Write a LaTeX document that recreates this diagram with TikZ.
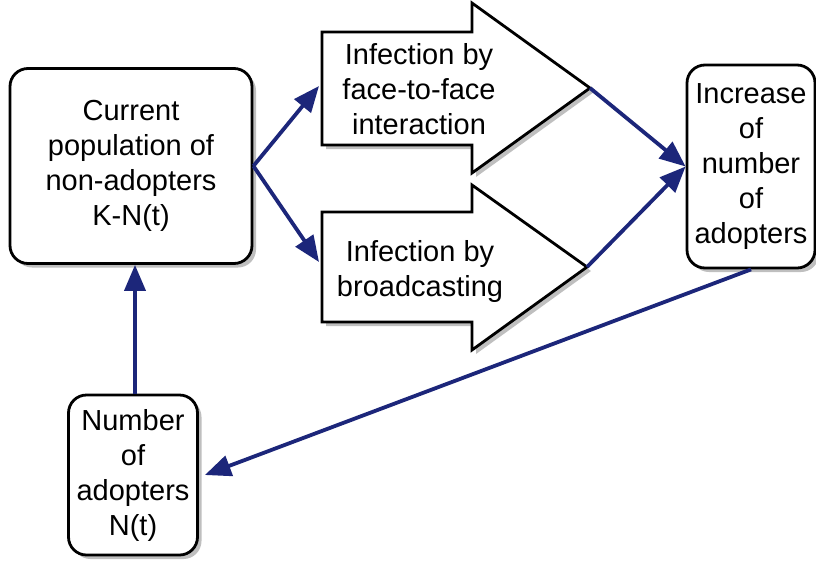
\documentclass[tikz,border=0pt]{standalone}
\usepackage{fontspec}
\setmainfont{Liberation Sans}
\usetikzlibrary{arrows.meta,shadows}
\definecolor{navy}{RGB}{28,38,122}
\begin{document}
\begin{tikzpicture}[x=1pt,y=-1pt,
  shad/.style={drop shadow={shadow xshift=4pt,shadow yshift=-4pt,fill=black!50}},
  box/.style={draw=black,line width=2.8pt,rounded corners=18pt,fill=white,align=center,inner sep=0pt,font=\fontsize{29}{35}\selectfont,shad},
  blk/.style={draw=black,line width=2.8pt,fill=white,line join=miter,shad},
  lbl/.style={align=center,inner sep=0pt,font=\fontsize{29}{35}\selectfont},
  link/.style={draw=navy,line width=3.8pt,-{Triangle[length=26pt,width=21pt]}}]
\useasboundingbox[fill=white] (0,0) rectangle (816,563);
% block arrows
\draw[blk] (322,32) -- (472,32) -- (472,3) -- (590,88) -- (472,173) -- (472,145) -- (322,145) -- cycle;
\coordinate (fatip) at (590,88);
\coordinate (fain) at (319,86);
\node[lbl] (fatext) at (419,89) {Infection by\\face-to-face\\interaction};
\draw[blk] (322,212) -- (472,212) -- (472,185) -- (587,267) -- (472,350) -- (472,322) -- (322,322) -- cycle;
\coordinate (bctip) at (587,267);
\coordinate (bcin) at (319,262);
\node[lbl] (bctext) at (420,271) {Infection by\\broadcasting};
% boxes
\node[box,minimum width=242pt,minimum height=195pt] (cur) at (131,166) {Current\\population of\\non-adopters\\K-N(t)};
\node[box,minimum width=128pt,minimum height=203pt] (inc) at (751,166.5) {Increase\\of\\number\\of\\adopters};
\node[box,minimum width=129pt,minimum height=160pt] (num) at (133,475) {Number\\of\\adopters\\N(t)};
% connectors
\draw[link] (cur.east) -- (fain);
\draw[link] (cur.east) -- (bcin);
\draw[link] (fatip) -- (inc.west);
\draw[link] (bctip) -- (inc.west);
\draw[link] (inc.south) -- ([xshift=6pt]num.east);
\draw[link] ([xshift=2pt]num.north) -- ([xshift=2pt]num.north |- cur.south);
\end{tikzpicture}
\end{document}
